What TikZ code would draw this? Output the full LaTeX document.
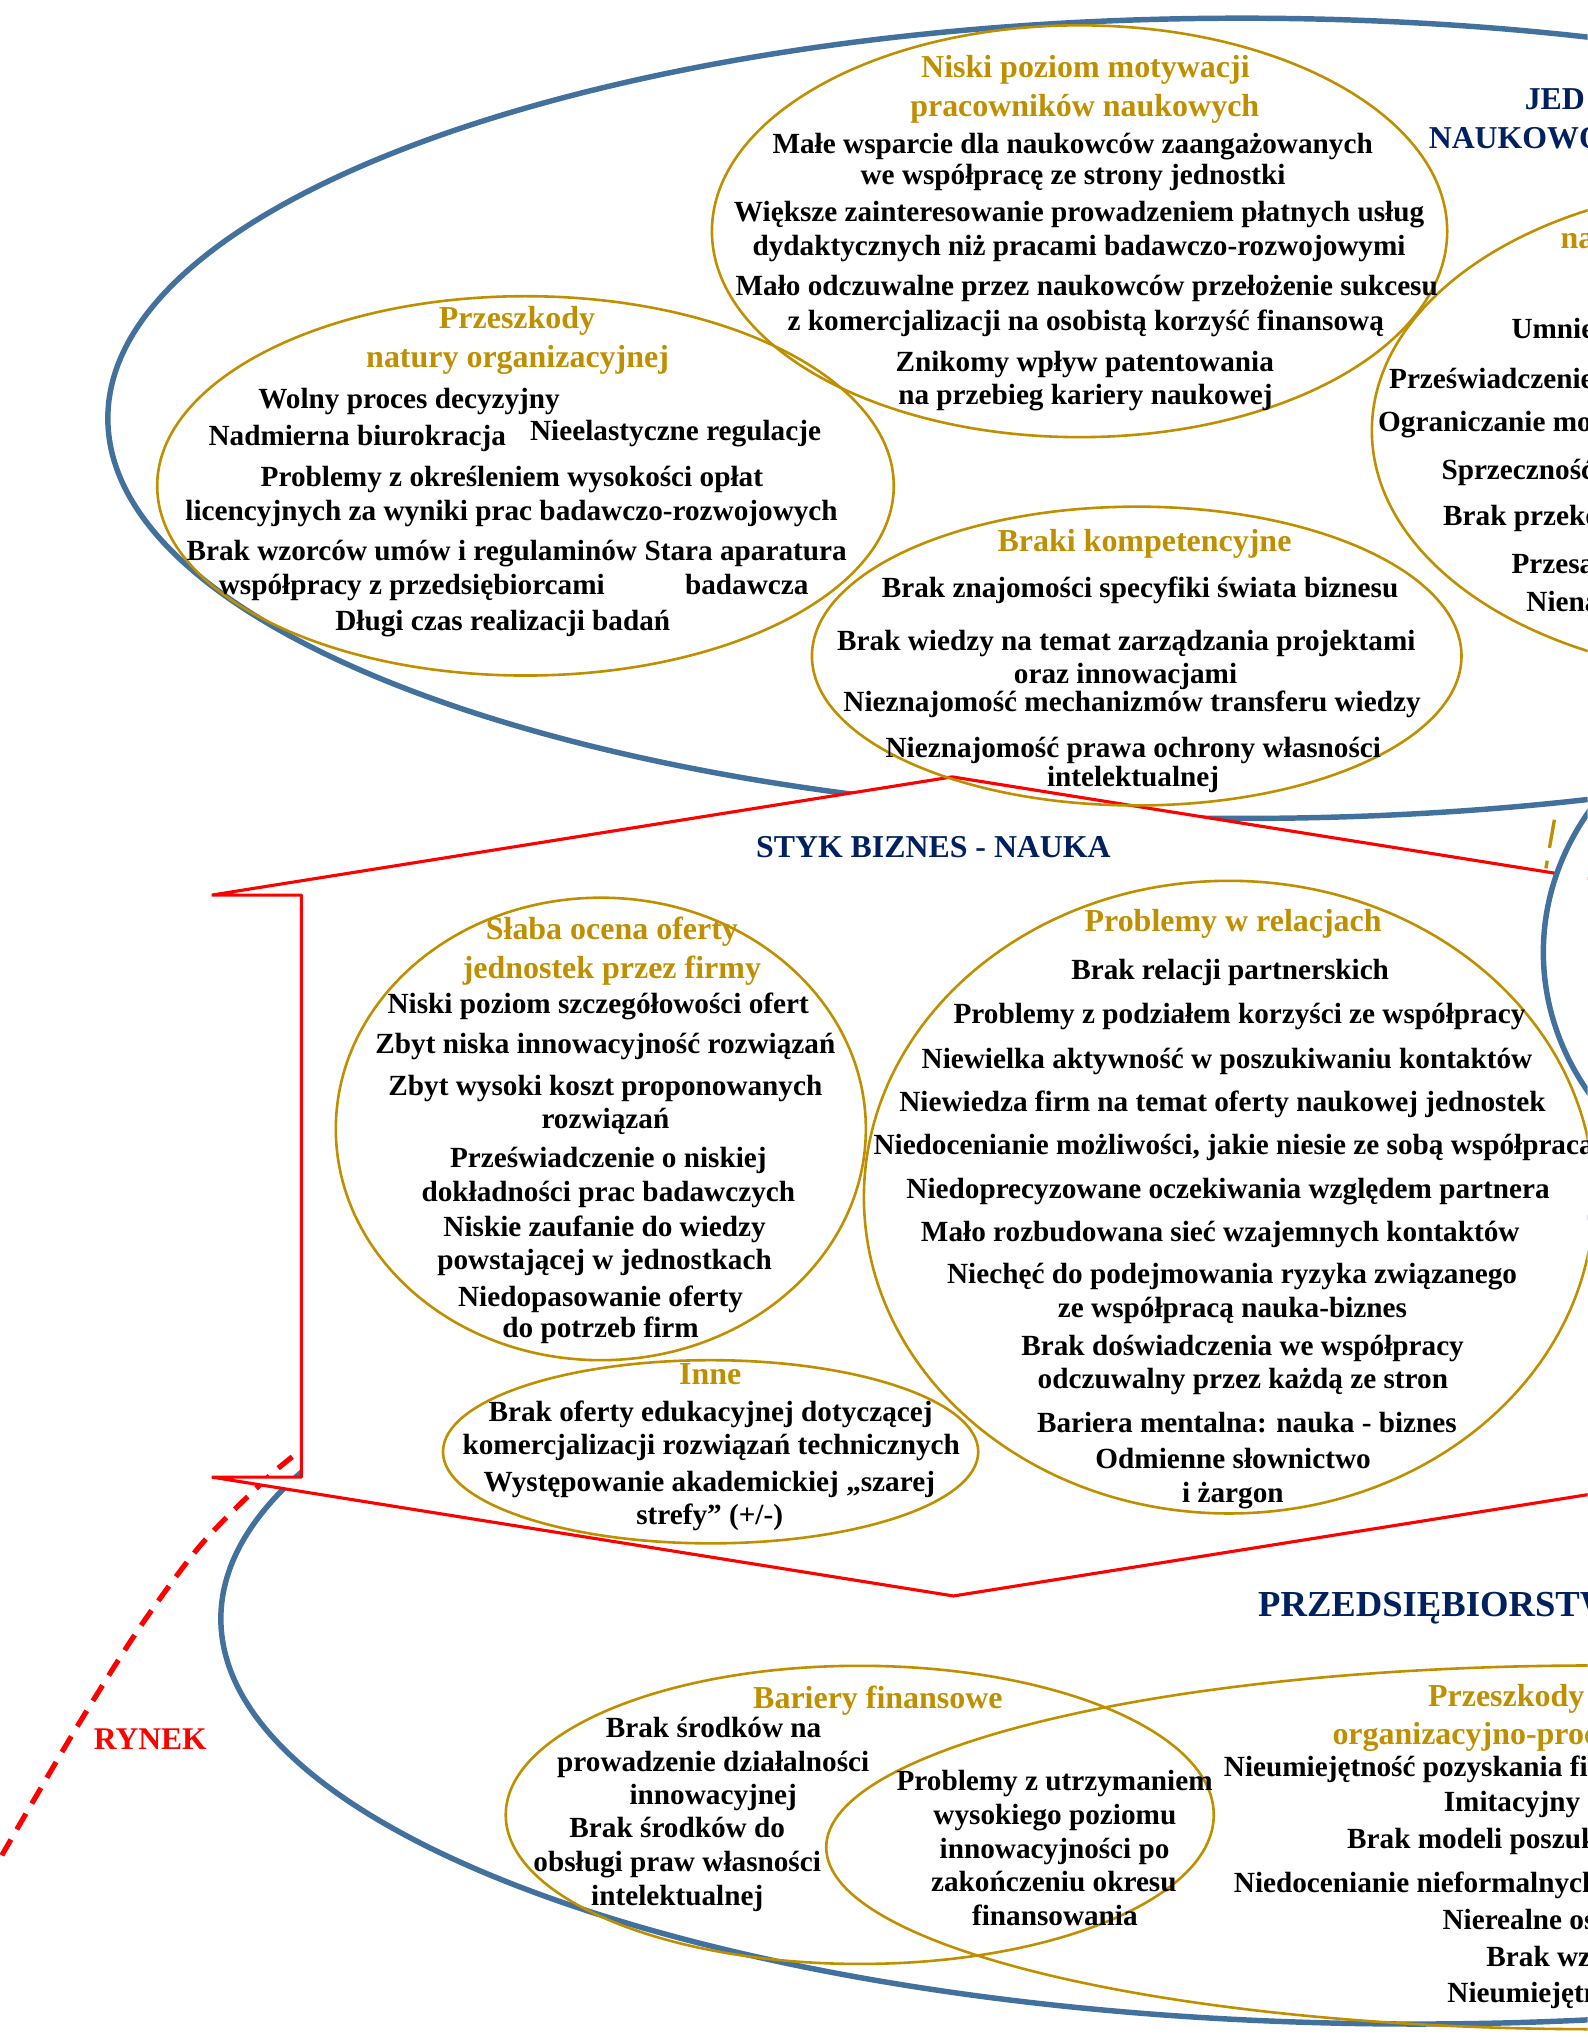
\documentclass[tikz,border=0pt]{standalone}
\usepackage{fontspec}
\setmainfont{Liberation Serif}
\usetikzlibrary{shapes.geometric}
\definecolor{ringblue}{RGB}{65,113,156}
\definecolor{gold}{RGB}{191,143,0}
\definecolor{navy}{RGB}{0,32,96}
\definecolor{marketred}{RGB}{255,0,0}
\begin{document}
\begin{tikzpicture}[x=1pt,y=-1pt,
  blueoval/.style={ellipse, draw=ringblue, line width=4.2pt, inner sep=0pt, outer sep=0pt},
  goldoval/.style={ellipse, draw=gold, line width=2pt, inner sep=0pt, outer sep=0pt},
  body/.style={anchor=base, inner sep=0pt, font=\fontsize{22.5}{26}\selectfont\bfseries, text=black},
  bodyL/.style={body, anchor=base west},
  head/.style={anchor=base, inner sep=0pt, font=\fontsize{24.6}{28}\selectfont\bfseries, text=gold},
  headL/.style={head, anchor=base west},
  title/.style={anchor=base, inner sep=0pt, font=\fontsize{24.5}{28}\selectfont\bfseries, text=navy},
  titleL/.style={title, anchor=base west},
  bigtitleL/.style={anchor=base west, inner sep=0pt, font=\fontsize{28.2}{32}\selectfont\bfseries, text=navy},
  market/.style={anchor=base, inner sep=0pt, font=\fontsize{24.3}{28}\selectfont\bfseries, text=marketred},
  marketline/.style={draw=marketred, line width=4pt, dash pattern=on 14pt off 9pt},
  contact/.style={draw=marketred, fill=white, line width=2.4pt, line join=bevel},
  golddash/.style={draw=gold, line width=2.6pt, dash pattern=on 22pt off 10pt on 6pt off 10pt}
]
\useasboundingbox (0,0) rectangle (1222,1568);
\clip (0,0) rectangle (1222,1568);

% large areas: science units (top) and enterprises (bottom)
\node[blueoval, minimum width=1746pt, minimum height=616pt] (science) at (956,322) {};
\node[blueoval, minimum width=1840pt, minimum height=624pt] (business) at (1090,1246) {};

% market boundary
\draw[marketline] plot[smooth] coordinates {(262,1094) (225.2,1121.2) (200,1143) (153.9,1190) (107.7,1252.5) (64.1,1321.3) (30.8,1377.5) (0,1430.6) (-12,1452)};

% business-science contact zone
\draw[contact] (163,689) -- (232,689) -- (232,1137) -- (163,1137) -- (734,1228.5) -- (1400,1122.1) -- (1400,704.6) -- (733,598) -- cycle;

% third area on the right
\node[blueoval, fill=white, minimum width=500pt, minimum height=424pt] (third) at (1438,733) {};
\coordinate (gdA) at (1196.5,631);
\coordinate (gdB) at (1189.5,671);
\draw[golddash] (gdA) -- (gdB);

% barrier groups
\node[goldoval, minimum width=566pt, minimum height=317pt] (motOval) at (831,178) {};
\node[goldoval, minimum width=567pt, minimum height=292pt] (orgOval) at (404.5,374) {};
\node[goldoval, minimum width=500pt, minimum height=230pt] (kompOval) at (875,505) {};
\node[goldoval, minimum width=600pt, minimum height=379pt] (natOval) at (1356,331.5) {};
\node[goldoval, minimum width=408pt, minimum height=356pt] (ofOval) at (462.5,869) {};
\node[goldoval, minimum width=562pt, minimum height=487pt] (relOval) at (946,921.5) {};
\node[goldoval, minimum width=412pt, minimum height=141pt] (inOval) at (547,1117.5) {};
\node[goldoval, minimum width=545pt, minimum height=229.5pt] (finOval) at (661.8,1397) {};
\node[goldoval, minimum width=1188pt, minimum height=280pt] (procOval) at (1230,1422) {};

% titles
\node[titleL] (tJed1) at (1173.5,84.6) {JED};
\node[titleL] (tJed2) at (1099.6,114.3) {NAUKOWO};
\node[title] (tStyk) at (718.5,660) {STYK BIZNES - NAUKA};
\node[bigtitleL] (tPrz) at (968.3,1244.6) {PRZEDSIĘBIORSTW};
\node[market] (tRynek) at (115.7,1347) {RYNEK};

% low motivation
\node[head] (mot0a) at (835.5,59.6) {Niski poziom motywacji};
\node[head] (mot0b) at (835,89.8) {pracowników naukowych};
\node[body] (mot1) at (825.7,118) {Małe wsparcie dla naukowców zaangażowanych};
\node[body] (mot2) at (826,142.4) {we współpracę ze strony jednostki};
\node[body] (mot3) at (830.6,170.6) {Większe zainteresowanie prowadzeniem płatnych usług};
\node[body] (mot4) at (830.6,197) {dydaktycznych niż pracami badawczo-rozwojowymi};
\node[body] (mot5) at (836.5,227.8) {Mało odczuwalne przez naukowców przełożenie sukcesu};
\node[body] (mot6) at (835.8,254.5) {z komercjalizacji na osobistą korzyść finansową};
\node[body] (mot7) at (835,286) {Znikomy wpływ patentowania};
\node[body] (mot8) at (835.5,311.7) {na przebieg kariery naukowej};

% organisational obstacles
\node[head] (org0a) at (398,253) {Przeszkody};
\node[head] (org0b) at (398.4,282.7) {natury organizacyjnej};
\node[body] (org1) at (314.9,314.2) {Wolny proces decyzyjny};
\node[body] (org2) at (275,343) {Nadmierna biurokracja};
\node[body] (org3) at (520,339.4) {Nieelastyczne regulacje};
\node[body] (org4) at (394,374.5) {Problemy z określeniem wysokości opłat};
\node[body] (org5) at (393.8,401) {licencyjnych za wyniki prac badawczo-rozwojowych};
\node[body] (org6) at (317,431.7) {Brak wzorców umów i regulaminów};
\node[body] (org7) at (574,431.7) {Stara aparatura};
\node[body] (org8) at (317,457.4) {współpracy z przedsiębiorcami};
\node[body] (org9) at (574.8,457.4) {badawcza};
\node[body] (org10) at (387,485.6) {Długi czas realizacji badań};

% competence gaps
\node[head] (kom0) at (881,424.5) {Braki kompetencyjne};
\node[body] (kom1) at (877.6,459.7) {Brak znajomości specyfiki świata biznesu};
\node[body] (kom2) at (867,500.7) {Brak wiedzy na temat zarządzania projektami};
\node[body] (kom3) at (866.4,526.4) {oraz innowacjami};
\node[body] (kom4) at (871.4,547.6) {Nieznajomość mechanizmów transferu wiedzy};
\node[body] (kom5) at (872.4,582.8) {Nieznajomość prawa ochrony własności};
\node[body] (kom6) at (872.2,605.4) {intelektualnej};

% right-hand group of the science area
\node[headL] (nat0) at (1201,191.2) {na};
\node[bodyL] (nat1) at (1163.3,260.8) {Umnie};
\node[bodyL] (nat2) at (1069.1,299.2) {Przeświadczenie};
\node[bodyL] (nat3) at (1060.7,331.8) {Ograniczanie mo};
\node[bodyL] (nat4) at (1109.4,368.8) {Sprzeczność};
\node[bodyL] (nat5) at (1110.7,404.3) {Brak przeko};
\node[bodyL] (nat6) at (1163.3,441.3) {Przesa};
\node[bodyL] (nat7) at (1174.8,470.9) {Niena};

% weak assessment of the offer
\node[head] (of0a) at (471,723.4) {Słaba ocena oferty};
\node[head] (of0b) at (471,752.9) {jednostek przez firmy};
\node[body] (of1) at (460.5,779.8) {Niski poziom szczegółowości ofert};
\node[body] (of2) at (466,810.6) {Zbyt niska innowacyjność rozwiązań};
\node[body] (of3) at (466,843.4) {Zbyt wysoki koszt proponowanych};
\node[body] (of4) at (466,868.3) {rozwiązań};
\node[body] (of5) at (468.3,899) {Przeświadczenie o niskiej};
\node[body] (of6) at (468.3,924.7) {dokładności prac badawczych};
\node[body] (of7) at (465.4,951.7) {Niskie zaufanie do wiedzy};
\node[body] (of8) at (465.4,977.3) {powstającej w jednostkach};
\node[body] (of9) at (462.3,1005.5) {Niedopasowanie oferty};
\node[body] (of10) at (462.3,1029.9) {do potrzeb firm};

% other
\node[head] (in0) at (546.7,1065.8) {Inne};
\node[body] (in1) at (547,1094) {Brak oferty edukacyjnej dotyczącej};
\node[body] (in2) at (547.5,1119.7) {komercjalizacji rozwiązań technicznych};
\node[body] (in3) at (546,1147.9) {Występowanie akademickiej „szarej};
\node[body] (in4) at (546.3,1173.5) {strefy” (+/-)};

% relationship problems
\node[head] (rel0) at (949.2,716.8) {Problemy w relacjach};
\node[body] (rel1) at (946.9,753.8) {Brak relacji partnerskich};
\node[body] (rel2) at (954.1,788.2) {Problemy z podziałem korzyści ze współpracy};
\node[body] (rel3) at (944.5,822.6) {Niewielka aktywność w poszukiwaniu kontaktów};
\node[body] (rel4) at (941,855.2) {Niewiedza firm na temat oferty naukowej jednostek};
\node[bodyL] (rel5) at (672.2,888.5) {Niedocenianie możliwości, jakie niesie ze sobą współpraca};
\node[body] (rel6) at (945.3,922.9) {Niedoprecyzowane oczekiwania względem partnera};
\node[body] (rel7) at (939.3,955.5) {Mało rozbudowana sieć wzajemnych kontaktów};
\node[body] (rel8) at (948.4,988.1) {Niechęć do podejmowania ryzyka związanego};
\node[body] (rel9) at (948.7,1013.9) {ze współpracą nauka-biznes};
\node[body] (rel10) at (956.5,1043.1) {Brak doświadczenia we współpracy};
\node[body] (rel11) at (956.7,1068.9) {odczuwalny przez każdą ze stron};
\node[body] (rel12) at (959.8,1102.6) {Bariera mentalna: nauka - biznes};
\node[body] (rel13) at (949.2,1130.7) {Odmienne słownictwo};
\node[body] (rel14) at (949,1156.5) {i żargon};

% financial barriers
\node[head] (fin0) at (675.8,1315.4) {Bariery finansowe};
\node[body] (fin1) at (549.3,1337.7) {Brak środków na};
\node[body] (fin2) at (549,1363.4) {prowadzenie działalności};
\node[body] (fin3) at (549,1389) {innowacyjnej};
\node[body] (fin4) at (521.3,1414.7) {Brak środków do};
\node[body] (fin5) at (521.3,1440.3) {obsługi praw własności};
\node[body] (fin6) at (521.3,1466.7) {intelektualnej};
\node[body] (fin7) at (811.8,1378) {Problemy z utrzymaniem};
\node[body] (fin8) at (812,1404.4) {wysokiego poziomu};
\node[body] (fin9) at (811.8,1430.8) {innowacyjności po};
\node[body] (fin10) at (811.2,1455.7) {zakończeniu okresu};
\node[body] (fin11) at (812,1482.1) {finansowania};

% organisational and process obstacles
\node[headL] (pro0a) at (1099.1,1313.3) {Przeszkody};
\node[headL] (pro0b) at (1025.5,1342.8) {organizacyjno-proc};
\node[bodyL] (pro1) at (941.9,1367.2) {Nieumiejętność pozyskania fin};
\node[bodyL] (pro2) at (1111.2,1394.1) {Imitacyjny};
\node[bodyL] (pro3) at (1036.8,1423.1) {Brak modeli poszuk};
\node[bodyL] (pro4) at (949.6,1457) {Niedocenianie nieformalnych};
\node[bodyL] (pro5) at (1110.2,1485.2) {Nierealne os};
\node[bodyL] (pro6) at (1144,1513.4) {Brak wz};
\node[bodyL] (pro7) at (1114,1541.6) {Nieumiejętn};
\end{tikzpicture}
\end{document}
